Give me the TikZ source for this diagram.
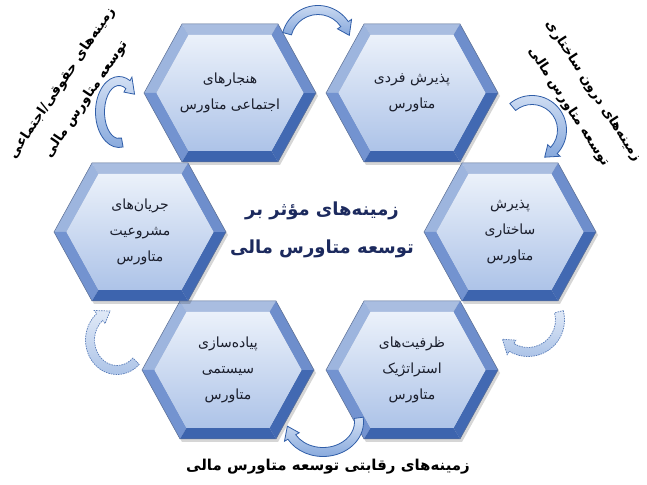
\documentclass[tikz,border=0pt]{standalone}
\usepackage{fontspec}
\TeXXeTstate=1
\newfontfamily\arabicfont[Script=Arabic]{DejaVu Sans}
\usetikzlibrary{calc}
\definecolor{ftop}{HTML}{A9BDE0}
\definecolor{ful}{HTML}{9DB5DE}
\definecolor{fll}{HTML}{7393D0}
\definecolor{fbot}{HTML}{3D64AE}
\definecolor{flr}{HTML}{4269B2}
\definecolor{fur}{HTML}{6E8ECC}
\definecolor{hexlight}{HTML}{EBF1FA}
\definecolor{hexdark}{HTML}{ADC3E8}
\definecolor{hexline}{HTML}{5A6E94}
\definecolor{hextxt}{HTML}{1A1E2C}
\definecolor{centertxt}{HTML}{1C2A5E}
\definecolor{arrline}{HTML}{2F5DA8}
\definecolor{arrlight}{HTML}{D3E0F4}
\definecolor{arrmid}{HTML}{86A8DC}
\newcommand\fa[1]{\beginR #1\endR}
% hexagon: name, x, y, text
\newcommand\hexagon[4]{%
 \begin{scope}[shift={(#2,#3)}]
  \fill[black,opacity=0.16] (88,-3)--(50,-72)--(-46,-72)--(-84,-3)--(-46,66)--(50,66)--cycle;
  \fill[ftop] (48,69)--(-48,69)--(-41.5,58)--(41.5,58)--cycle;
  \fill[ful] (-48,69)--(-86,0)--(-73.5,0)--(-41.5,58)--cycle;
  \fill[fll] (-86,0)--(-48,-69)--(-41.5,-58)--(-73.5,0)--cycle;
  \fill[fbot] (-48,-69)--(48,-69)--(41.5,-58)--(-41.5,-58)--cycle;
  \fill[flr] (48,-69)--(86,0)--(73.5,0)--(41.5,-58)--cycle;
  \fill[fur] (86,0)--(48,69)--(41.5,58)--(73.5,0)--cycle;
  \shade[top color=hexlight, bottom color=hexdark] (73.5,0)--(41.5,58)--(-41.5,58)--(-73.5,0)--(-41.5,-58)--(41.5,-58)--cycle;
  \draw[hexline, line width=0.5] (86,0)--(48,69)--(-48,69)--(-86,0)--(-48,-69)--(48,-69)--cycle;
 \end{scope}
 \node[hextext] (#1) at (#2,#3) {#4};
}
% block arc: center, rx, ry, start, head base, tip, half width, head extra, style
\newcommand\blockarc[9]{%
 \draw[#9, shift={(#1)}]
  (#4:{#2+#7} and {#3+#7}) arc[start angle=#4, end angle=#5, x radius={#2+#7}, y radius={#3+#7}]
  -- (#5:{#2+#7+#8} and {#3+#7+#8})
  -- (#6:#2 and #3)
  -- (#5:{#2-#7-#8} and {#3-#7-#8})
  -- (#5:{#2-#7} and {#3-#7})
  arc[start angle=#5, end angle=#4, x radius={#2-#7}, y radius={#3-#7}]
  -- cycle;
}
\tikzset{
 hextext/.style={font=\arabicfont\fontsize{14}{26}\selectfont, text=hextxt, align=center},
 centertext/.style={font=\arabicfont\bfseries\fontsize{18}{38}\selectfont, text=centertxt, align=center},
 sidetext/.style={font=\arabicfont\bfseries\fontsize{13.5}{29}\selectfont, text=black, align=center},
 solidarr/.style={draw=arrline, line width=0.8, top color=arrlight, bottom color=arrmid},
 dasharr/.style={draw=arrline!80, line width=0.7, dash pattern=on 1.5pt off 1pt, top color=arrlight!70!white, bottom color=arrmid!70!white}
}
\begin{document}
\begin{tikzpicture}[x=1pt,y=1pt]
\useasboundingbox (0,0) rectangle (647,484);
\fill[white] (0,0) rectangle (647,484);
\hexagon{h1}{230}{391}{\fa{هنجارهای}\\\fa{اجتماعی متاورس}}
\hexagon{h2}{412}{391}{\fa{پذیرش فردی}\\\fa{متاورس}}
\hexagon{h3}{510}{252}{\fa{پذیرش}\\\fa{ساختاری}\\\fa{متاورس}}
\hexagon{h4}{412}{114}{\fa{ظرفیت^^^^200cهای}\\\fa{استراتژیک}\\\fa{متاورس}}
\hexagon{h5}{228}{114}{\fa{پیاده^^^^200cسازی}\\\fa{سیستمی}\\\fa{متاورس}}
\hexagon{h6}{140}{252}{\fa{جریان^^^^200cهای}\\\fa{مشروعیت}\\\fa{متاورس}}
% arrow centres
\coordinate (a12) at (318,442);
\coordinate (a23) at (532,354);
\coordinate (a34) at (528,164);
\coordinate (a45) at (323,62);
\coordinate (a56) at (117,144);
\coordinate (a61) at (119,372);
\blockarc{a12}{32}{32}{165}{34}{12}{4.5}{4}{solidarr}
\blockarc{a23}{30}{30}{130}{-43}{-65}{4.5}{4}{solidarr}
\blockarc{a34}{32}{32}{15}{-121}{-143}{4.5}{4}{dasharr}
\blockarc{a45}{36}{30}{8}{-150}{-172}{4.5}{4}{solidarr}
\blockarc{a56}{27}{30}{-45}{-230}{-255}{4.5}{4}{dasharr}
\blockarc{a61}{19}{31}{-80}{-298}{-325}{4.5}{4}{solidarr}
% texts
\node[centertext] (c) at (322,254) {\fa{زمینه^^^^200cهای مؤثر بر}\\\fa{توسعه متاورس مالی}};
\node[sidetext, rotate=56] (lt) at (74,393) {\fa{زمینه^^^^200cهای حقوقی/اجتماعی}\\\fa{توسعه متاورس مالی}};
\node[sidetext, rotate=-57] (rt) at (581,385) {\fa{زمینه^^^^200cهای درون ساختاری}\\\fa{توسعه متاورس مالی}};
\node[sidetext, font=\arabicfont\bfseries\fontsize{15}{20}\selectfont] (bt) at (328,17) {\fa{زمینه^^^^200cهای رقابتی توسعه متاورس مالی}};
\end{tikzpicture}
\end{document}
